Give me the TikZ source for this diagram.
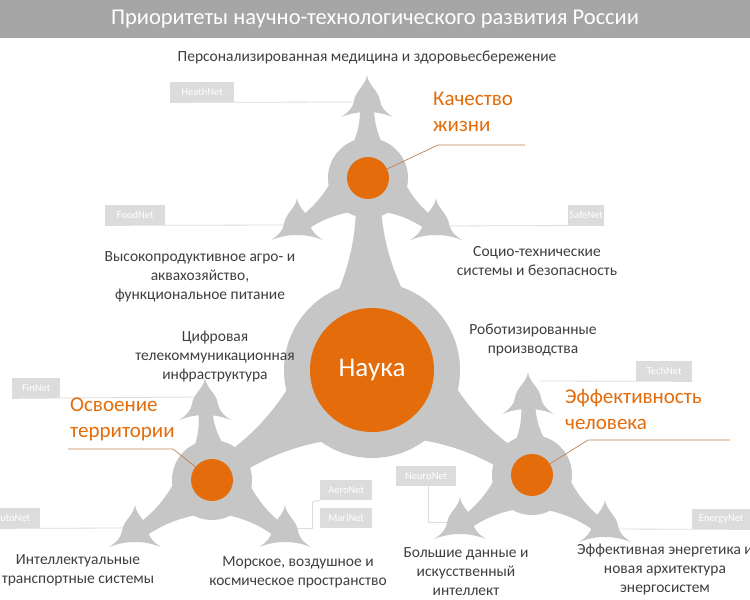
\documentclass[tikz,border=0pt]{standalone}
\usepackage{fontspec}
\setmainfont{Carlito}
\usetikzlibrary{calc}
\definecolor{gr}{HTML}{C6C6C6}
\definecolor{bar}{HTML}{A6A6A6}
\definecolor{tag}{HTML}{DCDCDC}
\definecolor{org}{HTML}{E46C0A}
\definecolor{txt}{HTML}{3F3F3F}
\definecolor{lnk}{HTML}{C08050}
\newcommand\spk[2]{\fill[gr,shift={(#1,#2)}] (0,0) .. controls (-1,10) and (-12,16) .. (-13,26) .. controls (-14,32) and (-18,37) .. (-26,42) .. controls (-15,38) and (-8,37) .. (0,37) .. controls (8,37) and (15,38) .. (26,42) .. controls (18,37) and (14,32) .. (13,26) .. controls (12,16) and (1,10) .. (0,0) -- cycle;}
\newcommand\arm[4]{%
 \coordinate (m1) at ($(#1)!0.45!(#2)$);
 \coordinate (m2) at ($(#1)!0.8!(#2)$);
 \fill[gr] ($(#1)!#3!90:(#2)$) .. controls ($(m1)!#4!90:(#2)$) and ($(m2)!#4!90:(#2)$) .. ($(#2)!#4!-90:(#1)$)
  -- ($(#2)!#4!90:(#1)$) .. controls ($(m2)!#4!-90:(#2)$) and ($(m1)!#4!-90:(#2)$) .. ($(#1)!#3!-90:(#2)$) -- cycle;}
\newcommand\hub[8]{% cx cy, three tips
 \fill[gr] (#1,#2) circle (40);
 \coordinate (hc) at (#1,#2);
 \coordinate (t1) at ($(#3)+(0,30)$);\arm{hc}{t1}{40pt}{7pt}
 \coordinate (t2) at ($(#4)+(0,30)$);\arm{hc}{t2}{40pt}{7pt}
 \coordinate (t3) at ($(#5)+(0,30)$);\arm{hc}{t3}{40pt}{7pt}
 \spk#6\spk#7\spk#8}
\tikzset{
 lbl/.style={text=txt,font=\fontsize{15.5}{19}\selectfont,align=center,inner sep=0},
 ttl/.style={text=org,font=\fontsize{21}{26}\selectfont,align=left,inner sep=0,anchor=north west},
 tagb/.style={fill=tag,text=white,font=\fontsize{10.5}{12}\selectfont,inner sep=0,minimum height=20,anchor=north west},
 tline/.style={draw=tag,line width=0.8},
 lk/.style={draw=lnk,line width=0.7},
 oc/.style={circle,fill=org,inner sep=0}
}
\begin{document}
\begin{tikzpicture}[x=1pt,y=-1pt]
\useasboundingbox (0,0) rectangle (750,600);
\fill[white] (0,0) rectangle (750,600);
\fill[bar] (0,0) rectangle (750,38);
\node[text=white,font=\fontsize{22.5}{26}\selectfont] (title) at (375,19) {Приоритеты научно-технологического развития России};
\node[tagb,minimum width=64] (heath) at (170,82) {HeathNet};
\draw[tline] (heath.south west) -- (352,102);
\node[tagb,minimum width=60] (food) at (105,205) {FoodNet};
\draw[tline] (food.south west) -- (292,225);
\node[tagb,minimum width=36] (safe) at (568,205) {SafeNet};
\draw[tline] (safe.south east) -- (440,226);
\node[tagb,minimum width=48] (fin) at (12,378) {FinNet};
\draw[tline] (fin.south west) -- (200,397);
\node[tagb,minimum width=56] (tech) at (636,361) {TechNet};
\draw[tline] (tech.south east) -- (540,381);
\node[tagb,minimum width=42] (auto) at (-2,508) {\hspace*{-14pt}AutoNet};
\draw[tline] (auto.south west) -- (125,528);
\node[tagb,minimum width=52] (aero) at (320,480) {AeroNet};
\node[tagb,minimum width=52] (mari) at (320,508) {MariNet};
\draw[tline] (312,502) -- (312,528) -- (285,528);
\draw[tline] (aero.south west) -- (312,502);
\node[tagb,minimum width=60] (neuro) at (396,466) {NeuroNet};
\draw[tline] (428,486) -- (428,522) -- (458,522);
\node[tagb,minimum width=58] (energy) at (692,509) {EnergyNet};
\draw[tline] (energy.south east) -- (605,529);
\fill[gr] (372,370) circle (88);
\coordinate (nc) at (372,370);
\coordinate (h1) at (368,185);\coordinate (h2) at (218,474);\coordinate (h3) at (525,470);
\arm{nc}{h1}{84pt}{12pt}
\arm{nc}{h2}{84pt}{12pt}
\arm{nc}{h3}{84pt}{12pt}
\hub{368}{178}{367,75}{297,198}{436,198}{{367}{75}}{{297}{198}}{{436}{198}}
\hub{212}{480}{205,378}{135,505}{285,505}{{205}{378}}{{135}{505}}{{285}{505}}
\hub{532}{475}{528,372}{460,497}{605,500}{{528}{372}}{{460}{497}}{{605}{500}}
\node[oc,minimum size=124,text=white,font=\fontsize{27}{30}\selectfont] (nauka) at (372,370) {Наука};
\node[oc,minimum size=42] (c1) at (368,178) {};
\node[oc,minimum size=42] (c2) at (212,480) {};
\node[oc,minimum size=42] (c3) at (532,475) {};
\node[ttl] (q) at (433,92) {Качество\\жизни};
\coordinate (q1) at (438,145);\coordinate (q2) at (525,145);
\draw[lk] (c1) -- (q1) -- (q2);
\node[ttl] (o) at (70,398) {Освоение\\территории};
\coordinate (o1) at (173,449);\coordinate (o2) at (68,449);
\draw[lk] (c2) -- (o1) -- (o2);
\node[ttl] (e) at (565,389) {Эффективность\\человека};
\coordinate (e1) at (588,440);\coordinate (e2) at (730,440);
\draw[lk] (c3) -- (e1) -- (e2);
\node[lbl] (l1) at (367,57) {Персонализированная медицина и здоровьесбережение};
\node[lbl] (l2) at (200,277) {Высокопродуктивное агро- и\\аквахозяйство,\\функциональное питание};
\node[lbl] (l3) at (537,261) {Социо-технические\\системы и безопасность};
\node[lbl] (l4) at (215,357) {Цифровая\\телекоммуникационная\\инфраструктура};
\node[lbl] (l5) at (533,340) {Роботизированные\\производства};
\node[lbl] (l6) at (78,570) {Интеллектуальные\\транспортные системы};
\node[lbl] (l7) at (298,572) {Морское, воздушное и\\космическое пространство};
\node[lbl] (l8) at (466,572) {Большие данные и\\искусственный\\интеллект};
\node[lbl] (l9) at (665,570) {Эффективная энергетика и\\новая архитектура\\энергосистем};
\end{tikzpicture}
\end{document}
